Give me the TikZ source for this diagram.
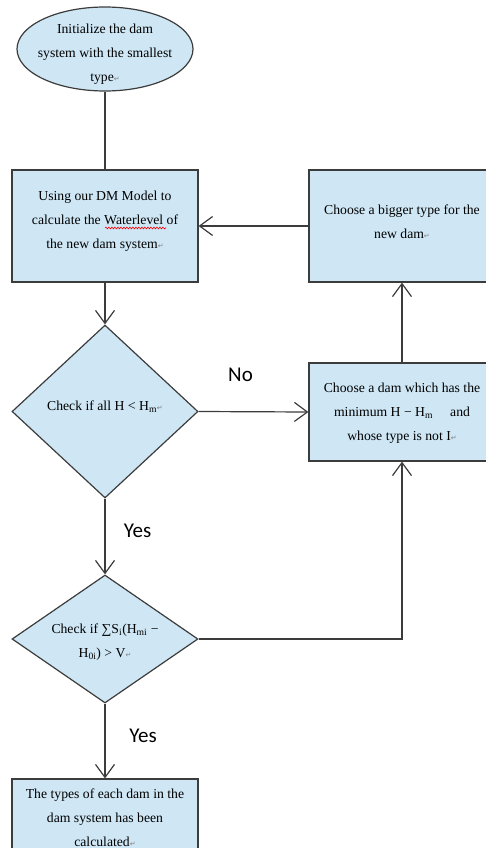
\documentclass[tikz,border=0pt]{standalone}
\usepackage{fontspec}
\setmainfont{Liberation Serif}
\newfontfamily\labelfont{Carlito}
\newfontfamily\symfont{DejaVu Sans}
\usetikzlibrary{shapes.geometric,arrows.meta,decorations.pathmorphing}
\definecolor{boxfill}{RGB}{207,231,245}
\definecolor{edge}{RGB}{60,60,60}
\newcommand{\pmark}{{\symfont\fontsize{7}{7}\selectfont\color{gray}↵}}
\newcommand{\sub}[1]{\textsubscript{#1}}
\begin{document}
\begin{tikzpicture}[x=1pt,y=-1pt,
  txt/.style={font=\fontsize{13.7}{24}\selectfont, align=center, inner sep=0pt},
  shp/.style={draw=edge, fill=boxfill, line width=1.2pt, inner sep=0pt},
  procbox/.style={shp, rectangle, minimum width=186pt, minimum height=112pt},
  decbox/.style={shp, diamond},
  conn/.style={draw=edge, line width=1.2pt},
  arr/.style={conn, -{Straight Barb[length=13pt,width=19pt,line width=1.2pt]}},
  lbl/.style={font=\labelfont\fontsize{21}{24}\selectfont}]
\useasboundingbox (0,0) rectangle (486,848);
% shapes
\node[shp, ellipse, minimum width=176pt, minimum height=84pt] (init) at (105,49) {};
\node[txt] (inittxt) at (105,54) {Initialize the dam\\system with the smallest\\type\pmark};
\node[procbox] (model) at (105,226) {};
\node[txt] (modeltxt) at (105,221) {Using our DM Model to\\calculate the Waterlevel of\\the new dam system\pmark};
\draw[red, line width=0.6pt, decoration={snake, amplitude=0.9pt, segment length=3pt}, decorate] (105,228) -- (166,228);
\node[procbox] (bigger) at (402,226) {};
\node[txt] (biggertxt) at (402,222) {Choose a bigger type for the\\new dam\pmark};
\node[decbox, minimum width=186pt, minimum height=173pt] (chk1) at (105,411.5) {};
\node[txt] (chk1txt) at (105,407) {Check if all H {\fontsize{14}{14}\selectfont<} H\sub{m}\pmark};
\node[procbox, minimum height=98pt] (choose) at (402,412) {};
\node[txt] (choosetxt) at (402,413) {Choose a dam which has the\\minimum H − H\sub{m}\hspace{1em} and\\whose type is not I\pmark};
\node[decbox, minimum width=186pt, minimum height=128pt] (chk2) at (105,639) {};
\node[txt] (chk2txt) at (105,642) {Check if ∑S\sub{i}(H\sub{mi} −\\H\sub{0i}) > V\pmark};
\node[procbox, minimum height=112pt] (done) at (105,835) {};
\node[txt] (donetxt) at (105,818) {The types of each dam in the\\dam system has been\\calculated\pmark};
% labels
\node[lbl] (no) at (240.5,375) {No};
\node[lbl] (yes1) at (137.5,531) {Yes};
\node[lbl] (yes2) at (143,736) {Yes};
% connectors
\coordinate (corner) at (402,639);
\draw[conn] (init.south) -- (model.north);
\draw[arr] (model.south) -- (chk1.north);
\draw[arr] (bigger.west) -- (model.east);
\draw[arr] (chk1.east) -- (choose.west);
\draw[arr] (choose.north) -- (bigger.south);
\draw[arr] (chk1.south) -- (chk2.north);
\draw[arr] (chk2.east) -- (corner) -- (choose.south);
\draw[arr] (chk2.south) -- (done.north);
\end{tikzpicture}
\end{document}
